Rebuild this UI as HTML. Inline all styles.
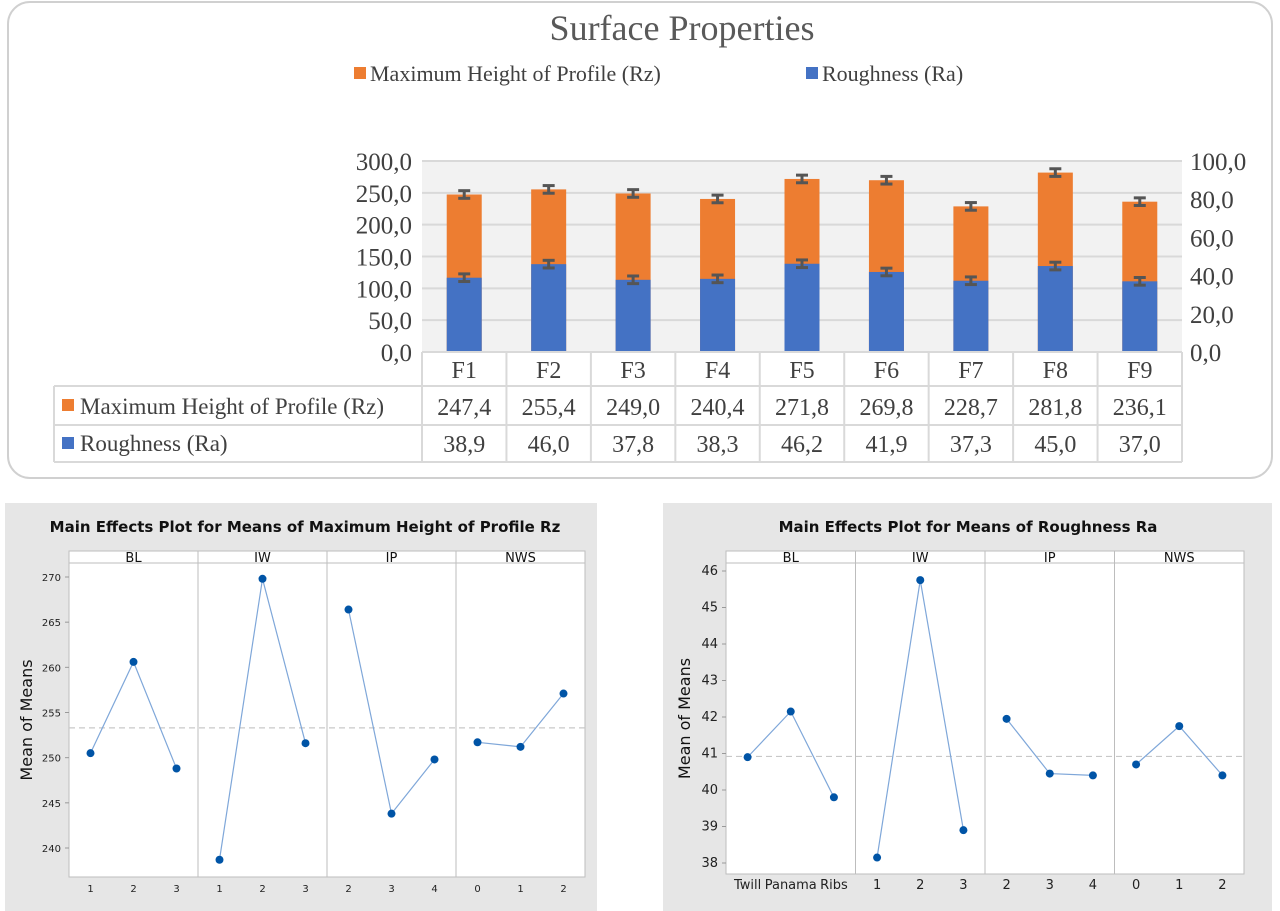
<!DOCTYPE html>
<html><head><meta charset="utf-8">
<style>
html,body{margin:0;padding:0;background:#fff;width:1280px;height:911px;overflow:hidden}
svg{display:block}
.serif{font-family:"Liberation Serif",serif}
.sans{font-family:"DejaVu Sans","Liberation Sans",sans-serif}
</style></head>
<body>
<svg id="root" width="1280" height="911" viewBox="0 0 1280 911" xmlns="http://www.w3.org/2000/svg">
  <rect x="8" y="2" width="1264" height="476" rx="22" fill="#fff" stroke="#d0d0d0" stroke-width="2"/>
  <text x="682" y="40" text-anchor="middle" class="serif" font-size="36" fill="#595959">Surface Properties</text>
  <g>
    <rect x="354" y="67" width="12" height="12" fill="#ed7d31"/>
    <text x="370" y="81" class="serif" font-size="22" fill="#404040">Maximum Height of Profile (Rz)</text>
    <rect x="806" y="67" width="12" height="12" fill="#4472c4"/>
    <text x="822" y="81" class="serif" font-size="22" fill="#404040">Roughness (Ra)</text>
  </g>
  <g id="top"></g>
  <rect x="5" y="503" width="592" height="408" fill="#e6e6e6"/>
  <rect x="663" y="503" width="609" height="408" fill="#e6e6e6"/>
  <g id="left"></g>
  <g id="right"></g>
</svg>
<script>
const NS="http://www.w3.org/2000/svg";
const categories=["F1","F2","F3","F4","F5","F6","F7","F8","F9"];
const rzValues=[247.4,255.4,249.0,240.4,271.8,269.8,228.7,281.8,236.1];
const raValues=[38.9,46.0,37.8,38.3,46.2,41.9,37.3,45.0,37.0];
const rzErr=[6,6,6,6,6,6,6,6,6];
const raErr=[2,2,2,2,2,2,2,2,2];
const leftTicks=["0,0","50,0","100,0","150,0","200,0","250,0","300,0"];
const rightTicks=["0,0","20,0","40,0","60,0","80,0","100,0"];

const factors=["BL","IW","IP","NWS"];
const rzLevels=[["1","2","3"],["1","2","3"],["2","3","4"],["0","1","2"]];
const rzMeans=[[250.5,260.6,248.8],[238.7,269.8,251.6],[266.4,243.8,249.8],[251.7,251.2,257.1]];
const rzMean=253.3;
const rzYTicks=[240,245,250,255,260,265,270];
const raLevels=[["Twill","Panama","Ribs"],["1","2","3"],["2","3","4"],["0","1","2"]];
const raMeans=[[40.9,42.15,39.8],[38.15,45.75,38.9],[41.95,40.45,40.4],[40.7,41.75,40.4]];
const raMean=40.92;
const raYTicks=[38,39,40,41,42,43,44,45,46];

function mk(tag,attrs,parent,text){const e=document.createElementNS(NS,tag);for(const k in attrs)e.setAttribute(k,attrs[k]);if(text!==undefined)e.textContent=text;parent.appendChild(e);return e;}

(function(){
  const g=document.getElementById('top');
  const X0=422,X1=1182,Y0=352,Y1=161;
  const yL=v=>Y0-(v/300)*(Y0-Y1);
  const yR=v=>Y0-(v/100)*(Y0-Y1);
  const cw=(X1-X0)/categories.length;
  const bg=mk('rect',{x:X0,y:Y1,width:X1-X0,height:Y0-Y1,fill:'#f2f2f2'},g);
  
  
  leftTicks.forEach((t,i)=>{
    const v=i*50,y=yL(v);
    const l=mk('line',{x1:X0,x2:X1,y1:y,y2:y,stroke:'#d9d9d9','stroke-width':2},g);
    
    
    const tx=mk('text',{x:412,y:y+9,'text-anchor':'end','font-size':25,fill:'#404040',class:'serif'},g,t);
    
    
  });
  rightTicks.forEach((t,i)=>{
    const y=yR(i*20);
    const tx=mk('text',{x:1190,y:y+9,'font-size':25,fill:'#404040',class:'serif'},g,t);
    
    
  });
  function errbar(cx,y,e,sc){
    const eg=mk('g',{},g);
    
    
    const up=y-(Y0-sc(e)),dn=y+(Y0-sc(e));
    mk('line',{x1:cx,x2:cx,y1:up,y2:dn,stroke:'#555','stroke-width':3},eg);
    mk('line',{x1:cx-6,x2:cx+6,y1:up,y2:up,stroke:'#555','stroke-width':3},eg);
    mk('line',{x1:cx-6,x2:cx+6,y1:dn,y2:dn,stroke:'#555','stroke-width':3},eg);
  }
  categories.forEach((c,i)=>{
    const cx=X0+cw*(i+0.5),bw=35;
    const r=mk('rect',{x:cx-bw/2,y:yL(rzValues[i]),width:bw,height:Y0-yL(rzValues[i]),fill:'#ed7d31'},g);
    
    
    const b=mk('rect',{x:cx-bw/2,y:yR(raValues[i]),width:bw,height:Y0-yR(raValues[i]),fill:'#4472c4'},g);
    
    
    errbar(cx,yL(rzValues[i]),rzErr[i],yL);
    errbar(cx,yR(raValues[i]),raErr[i],yR);
  });
  const tcol='#d9d9d9';
  const lines=[[X0,352,X1,352],[54,386,X1,386],[54,425,X1,425],[54,462,X1,462]];
  lines.forEach(a=>{const l=mk('line',{x1:a[0],y1:a[1],x2:a[2],y2:a[3],stroke:tcol,'stroke-width':2},g);});
  for(let i=0;i<=categories.length;i++){
    const x=X0+cw*i;
    const l=mk('line',{x1:x,y1:352,x2:x,y2:462,stroke:tcol,'stroke-width':2},g);
    
    
  }
  const lv=mk('line',{x1:54,y1:386,x2:54,y2:462,stroke:tcol,'stroke-width':2},g);
  
  
  categories.forEach((c,i)=>{
    const cx=X0+cw*(i+0.5);
    const t=mk('text',{x:cx,y:378,'text-anchor':'middle','font-size':24,fill:'#404040',class:'serif'},g,c);
    
    
    const a=mk('text',{x:cx,y:415,'text-anchor':'middle','font-size':24,fill:'#404040',class:'serif'},g,rzValues[i].toFixed(1).replace('.',','));
    
    
    const b=mk('text',{x:cx,y:452,'text-anchor':'middle','font-size':24,fill:'#404040',class:'serif'},g,raValues[i].toFixed(1).replace('.',','));
    
    
  });
  const s1=mk('rect',{x:62,y:399,width:12,height:12,fill:'#ed7d31'},g);
  
  const t1=mk('text',{x:80,y:414,'font-size':23,fill:'#404040',class:'serif'},g,'Maximum Height of Profile (Rz)');
  
  const s2=mk('rect',{x:62,y:437,width:12,height:12,fill:'#4472c4'},g);
  
  const t2=mk('text',{x:80,y:451,'font-size':23,fill:'#404040',class:'serif'},g,'Roughness (Ra)');
  
})();

function mainEffects(gid,o){
  const g=document.getElementById(gid);
  const {X0,X1,top,strip,bottom,tA,yA,tB,yB,levels,means,mean,yticks,title,titleX,ylabX,prefix}=o;
  const y=v=>yA+(v-tA)*(yB-yA)/(tB-tA);
  const pw=(X1-X0)/4;
  const tt=mk('text',{x:titleX,y:532,'text-anchor':'middle','font-size':15,'font-weight':'bold',fill:'#111',class:'sans'},g,title);
  
  
  const pb=mk('rect',{x:X0,y:top,width:X1-X0,height:bottom-top,fill:'#fff',stroke:'#bdbdbd','stroke-width':1},g);
  
  
  const sl=mk('line',{x1:X0,x2:X1,y1:strip,y2:strip,stroke:'#bdbdbd'},g);
  
  
  const ref=mk('line',{x1:X0,x2:X1,y1:y(mean),y2:y(mean),stroke:'#c8c8c8','stroke-dasharray':'6,4','stroke-width':1.2},g);
  
  
  yticks.forEach(v=>{
    const t=mk('text',{x:X0-8,y:y(v)+4,'text-anchor':'end','font-size':prefix==='ra'?13:10,fill:'#222',class:'sans'},g,String(v));
    
    
    mk('line',{x1:X0-4,x2:X0,y1:y(v),y2:y(v),stroke:'#999'},g);
  });
  const yl=mk('text',{x:ylabX,y:(strip+bottom)/2,'text-anchor':'middle','font-size':16,'font-weight':500,fill:'#111',class:'sans',transform:`rotate(-90 ${ylabX} ${(strip+bottom)/2})`},g,'Mean of Means');
  
  
  factors.forEach((f,i)=>{
    const px=X0+pw*i;
    if(i>0){const d=mk('line',{x1:px,x2:px,y1:top,y2:bottom,stroke:'#bdbdbd'},g);}
    const st=mk('text',{x:px+pw/2,y:strip-1,'text-anchor':'middle','font-size':13,fill:'#111',class:'sans'},g,f);
    
    
    const xs=levels[i].map((l,j)=>px+pw/2+(j-1)*pw/3);
    const pts=means[i].map((v,j)=>xs[j]+','+y(v)).join(' ');
    const pl=mk('polyline',{points:pts,fill:'none',stroke:'#7fa7d9','stroke-width':1.2},g);
    
    
    means[i].forEach((v,j)=>{
      const c=mk('circle',{cx:xs[j],cy:y(v),r:4,fill:'#0054a6'},g);
      
      
      const lt=mk('text',{x:xs[j],y:bottom+15,'text-anchor':'middle','font-size':prefix==='ra'?13:10,fill:'#222',class:'sans'},g,levels[i][j]);
      
      
    });
  });
}
mainEffects('left',{X0:69,X1:585,top:551,strip:563,bottom:877,tA:270,yA:577,tB:240,yB:848,levels:rzLevels,means:rzMeans,mean:rzMean,yticks:rzYTicks,title:'Main Effects Plot for Means of Maximum Height of Profile Rz',titleX:305,ylabX:32,prefix:'rz'});
mainEffects('right',{X0:726,X1:1244,top:551,strip:563,bottom:874,tA:46,yA:571,tB:38,yB:863,levels:raLevels,means:raMeans,mean:raMean,yticks:raYTicks,title:'Main Effects Plot for Means of Roughness Ra',titleX:968,ylabX:690,prefix:'ra'});
</script>
</body></html>
